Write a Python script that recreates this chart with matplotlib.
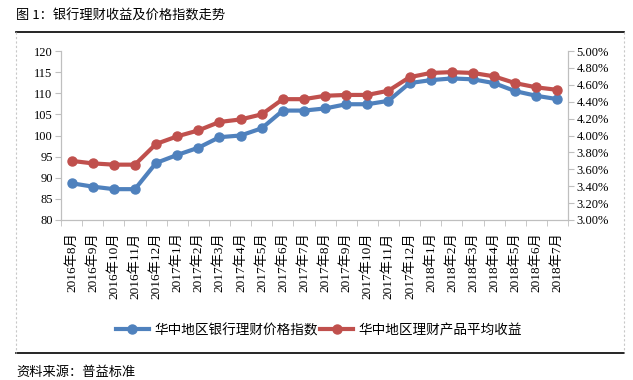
import matplotlib.pyplot as plt
from matplotlib.lines import Line2D
import numpy as np

plt.rcParams['font.family'] = ['Liberation Serif', 'Noto Sans CJK SC']

months = ['2016年8月', '2016年9月', '2016年10月', '2016年11月', '2016年12月',
          '2017年1月', '2017年2月', '2017年3月', '2017年4月', '2017年5月',
          '2017年6月', '2017年7月', '2017年8月', '2017年9月', '2017年10月',
          '2017年11月', '2017年12月', '2018年1月', '2018年2月', '2018年3月',
          '2018年4月', '2018年5月', '2018年6月', '2018年7月']
price_index = [88.7, 87.9, 87.3, 87.3, 93.5, 95.4, 97.1, 99.6, 100.0, 101.7,
               105.9, 105.9, 106.4, 107.4, 107.4, 108.2, 112.4, 113.1, 113.5,
               113.3, 112.4, 110.5, 109.4, 108.6]
avg_yield = [3.70, 3.67, 3.655, 3.655, 3.90, 3.99, 4.06, 4.16, 4.19, 4.25,
             4.43, 4.43, 4.47, 4.48, 4.48, 4.53, 4.69, 4.74, 4.75, 4.74,
             4.70, 4.62, 4.57, 4.54]

blue = '#4F81BD'
red = '#C0504D'
grey = '#BFBFBF'

fig = plt.figure(figsize=(6.33, 3.80), dpi=100)
ax = fig.add_axes([61/633, 1-220/380, (568-61)/633, (220-51)/380])
ax2 = ax.twinx()

x = np.arange(len(months))
ax.plot(x, price_index, color=blue, lw=3, marker='o', ms=6.5, zorder=3)
ax2.plot(x, avg_yield, color=red, lw=3, marker='o', ms=6.5, zorder=3)

ax.set_xlim(-0.5, len(months) - 0.5)
ax.set_ylim(80, 120)
ax.set_yticks(np.arange(80, 121, 5))
ax2.set_ylim(3.0, 5.0)
ax2.set_yticks(np.arange(3.0, 5.01, 0.2))
ax2.set_yticklabels(['%.2f%%' % v for v in np.arange(3.0, 5.01, 0.2)])

ax.set_xticks(x)
ax.set_xticklabels(months, rotation=90, fontsize=9.5, color='#000000')
ax.set_xticks(np.arange(-0.5, len(months)), minor=True)
ax.tick_params(axis='x', which='major', length=0, pad=9)
ax.tick_params(axis='x', which='minor', length=4, color=grey, direction='out')
ax.tick_params(axis='y', length=4, color=grey, labelsize=9, pad=2)
ax2.tick_params(axis='y', length=4, color=grey, labelsize=9, pad=2)

for a in (ax, ax2):
    a.spines['top'].set_visible(False)
    for s in ('left', 'right', 'bottom'):
        a.spines[s].set_color(grey)

# legend
handles = [Line2D([0], [0], color=blue, lw=3, marker='o', ms=6.5),
           Line2D([0], [0], color=red, lw=3, marker='o', ms=6.5)]
fig.legend(handles, ['华中地区银行理财价格指数', '华中地区理财产品平均收益'],
           loc='center', bbox_to_anchor=(319/633, 1-330/380), ncol=2,
           frameon=False, handlelength=2.4, handletextpad=0.4, columnspacing=0.2,
           prop={'family': ['Noto Sans CJK SC'], 'size': 9.8})

# frame lines and title/source
fig.add_artist(Line2D([16/633, 624/633], [1-32/380, 1-32/380], color='black', lw=1.2))
fig.add_artist(Line2D([16/633, 624/633], [1-353/380, 1-353/380], color='black', lw=1.2))
fig.add_artist(Line2D([16/633, 16/633], [1-32/380, 1-353/380], color='#C8C8C8', lw=0.8, ls=(0, (2, 2))))
fig.add_artist(Line2D([624/633, 624/633], [1-32/380, 1-353/380], color='#C8C8C8', lw=0.8, ls=(0, (2, 2))))

fig.text(16/633, 1-16/380, '图 1：银行理财收益及价格指数走势', fontsize=9.5,
         family=['Noto Sans CJK SC'], va='center', ha='left')
fig.text(16/633, 1-372/380, '资料来源：普益标准', fontsize=9.5,
         family=['Noto Sans CJK SC'], va='center', ha='left')

fig.savefig('out.png', dpi=100)
